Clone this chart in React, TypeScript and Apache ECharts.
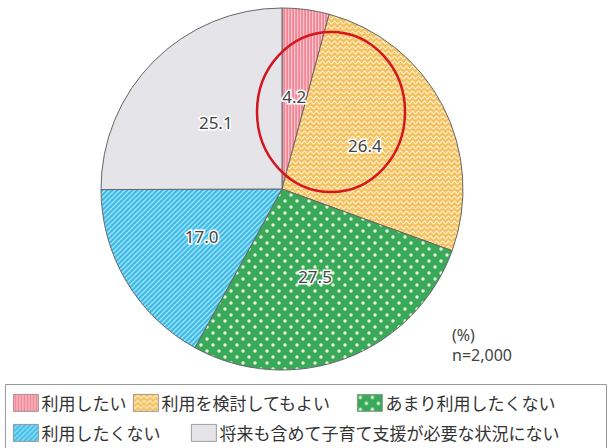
import React, { useEffect, useRef } from "react";
import * as echarts from "echarts";

const categories = [
  "利用したい",
  "利用を検討してもよい",
  "あまり利用したくない",
  "利用したくない",
  "将来も含めて子育て支援が必要な状況にない",
];
const values = [4.2, 26.4, 27.5, 17.0, 25.1];
const noteLines = ["(%)", "n=2,000"];

function makePattern(kind: string) {
  const c = document.createElement("canvas");
  let w = 4, h = 4;
  if (kind === "pink") { w = 3; h = 4; }
  if (kind === "orange") { w = 6; h = 5; }
  if (kind === "green") { w = 12; h = 12; }
  if (kind === "blue") { w = 5; h = 5; }
  c.width = w; c.height = h;
  const g = c.getContext("2d")!;
  if (kind === "pink") {
    g.fillStyle = "#f28896"; g.fillRect(0, 0, w, h);
    g.fillStyle = "#fbc3cb"; g.fillRect(0, 0, 1.2, h);
  } else if (kind === "orange") {
    g.fillStyle = "#f4c060"; g.fillRect(0, 0, w, h);
    g.strokeStyle = "#fff1cc"; g.lineWidth = 1.2;
    g.beginPath();
    for (let x = -1; x <= w + 1; x += 0.5) {
      const y = 2.5 + 1.3 * Math.sin((2 * Math.PI * x) / w);
      if (x === -1) g.moveTo(x, y); else g.lineTo(x, y);
    }
    g.stroke();
  } else if (kind === "green") {
    g.fillStyle = "#3aa95a"; g.fillRect(0, 0, w, h);
    g.fillStyle = "#e4f7dc";
    g.beginPath(); g.arc(3, 3, 1.7, 0, Math.PI * 2); g.fill();
    g.beginPath(); g.arc(9, 9, 1.7, 0, Math.PI * 2); g.fill();
  } else if (kind === "blue") {
    g.fillStyle = "#3dbbe8"; g.fillRect(0, 0, w, h);
    g.strokeStyle = "#a3e3f8"; g.lineWidth = 1.3;
    g.beginPath();
    g.moveTo(-1, h + 1); g.lineTo(w + 1, -1);
    g.moveTo(-1 - w, h + 1); g.lineTo(1, -1);
    g.moveTo(w - 1, h + 1); g.lineTo(2 * w + 1, -1);
    g.stroke();
  }
  return { image: c, repeat: "repeat", imageWidth: w, imageHeight: h } as any;
}

// legend item anchor positions [left, top] (legend padding is 5)
const legendPos = [
  [8, 389],
  [128, 389],
  [352, 389],
  [8, 419],
  [186, 419],
];

export default function App() {
  const ref = useRef<HTMLDivElement>(null);
  useEffect(() => {
    document.body.style.margin = "0";
    const chart = echarts.init(ref.current!, null, { renderer: "svg" });
    const fills = [
      makePattern("pink"),
      makePattern("orange"),
      makePattern("green"),
      makePattern("blue"),
      "#e5e5e9",
    ];
    const legendCommon = {
      orient: "horizontal",
      itemWidth: 25,
      itemHeight: 17,
      itemGap: 12,
      icon: "rect",
      selectedMode: false,
      textStyle: { fontSize: 17, color: "#333", fontFamily: "Noto Sans CJK JP", padding: [0, 0, 0, -2] },
      itemStyle: { borderColor: "#888", borderWidth: 0.8 },
    };
    chart.setOption({
      animation: false,
      legend: categories.map((name, i) => ({
        ...legendCommon,
        data: [name],
        left: legendPos[i][0],
        top: legendPos[i][1],
      })),
      graphic: [
        {
          type: "rect",
          shape: { x: 5.5, y: 384.5, width: 601, height: 80 },
          style: { fill: "none", stroke: "#999", lineWidth: 1 },
        },
        {
          type: "ellipse",
          z: 100,
          shape: { cx: 331, cy: 112, rx: 74, ry: 80 },
          style: { fill: "none", stroke: "#d4161f", lineWidth: 2.5 },
        },
        {
          type: "text",
          left: 452,
          top: 327,
          style: { text: noteLines[0], fontSize: 16, fill: "#444", fontFamily: "Noto Sans" },
        },
        {
          type: "text",
          left: 452,
          top: 347,
          style: { text: noteLines[1], fontSize: 16, fill: "#444", fontFamily: "Noto Sans" },
        },
      ],
      series: [
        {
          type: "pie",
          center: [282, 189],
          radius: [0, 181],
          startAngle: 90,
          clockwise: true,
          label: {
            show: true,
            position: "inside",
            formatter: (p: any) => Number(p.value).toFixed(1),
            fontSize: 17,
            color: "#444",
            fontFamily: "Noto Sans",
            textBorderColor: "#fff",
            textBorderWidth: 3,
          },
          labelLine: { show: false },
          emphasis: { disabled: true },
          itemStyle: { borderColor: "#666", borderWidth: 1 },
          data: categories.map((name, i) => ({
            name,
            value: values[i],
            itemStyle: { color: fills[i] },
          })),
        },
      ],
    });
    return () => chart.dispose();
  }, []);
  return <div ref={ref} style={{ width: 610, height: 448 }} />;
}
